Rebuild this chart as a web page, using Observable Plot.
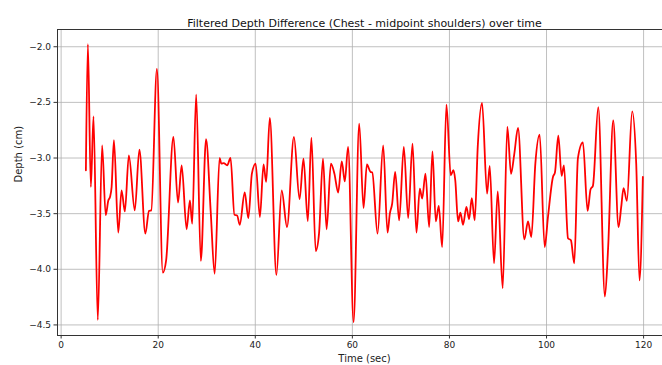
<!DOCTYPE html>
<html>
<head>
<meta charset="utf-8">
<script src="https://cdn.jsdelivr.net/npm/d3@7"></script>
<script src="https://cdn.jsdelivr.net/npm/@observablehq/plot@0.6"></script>
<style>
  html, body { margin: 0; padding: 0; background: #fff; overflow: hidden; }
  #chart svg { display: block; }
</style>
</head>
<body>
<div id="chart"></div>
<script>
// Filtered chest-minus-shoulders depth signal, sampled at its turning points (sec, cm)
const times = [
  5.1, 5.51, 6.12, 6.67, 7.55, 8.44, 9.18, 9.73, 10.07, 10.4, 10.88, 11.77, 12.45, 13.13,
  13.95, 15.17, 16.12, 17.35, 18.1, 18.57, 19.73, 20.95, 21.63, 23.13, 24.08, 24.83, 25.85,
  26.53, 27.0, 27.82, 28.78, 29.86, 30.8, 31.63, 32.65, 33.0, 33.5, 34.2, 34.9, 35.7, 36.26,
  36.8, 37.82, 38.57, 39.3, 40.07, 40.95, 41.7, 42.24, 42.99, 44.35, 45.44, 46.53, 47.96,
  49.12, 49.93, 50.82, 51.56, 52.45, 53.13, 53.95, 54.69, 55.58, 56.3, 57.07, 57.82, 58.44,
  59.12, 60.25, 61.41, 62.3, 62.99, 63.74, 64.1, 65.19, 66.35, 67.24, 67.72, 68.2, 68.82,
  69.64, 70.6, 71.5, 72.39, 73.2, 73.9, 74.38, 75.06, 75.82, 76.5, 77.19, 77.8, 78.5, 79.38,
  80.27, 80.82, 81.2, 81.78, 82.26, 82.8, 83.5, 84.05, 84.6, 85.21, 85.83, 86.72, 87.75,
  88.3, 89.19, 89.95, 90.97, 91.93, 92.69, 93.37, 94.13, 95.43, 96.19, 96.87, 97.7, 98.59,
  99.62, 100.3, 101.33, 101.74, 102.43, 103.11, 103.59, 104.42, 105.03, 105.72, 106.47,
  107.5, 108.46, 109.08, 109.56, 110.66, 112.03, 112.7, 113.74, 114.84, 115.39, 115.87,
  116.56, 117.65, 118.48, 119.16, 119.85
];
const depths = [
  -3.11, -1.976, -3.26, -2.627, -4.454, -2.887, -3.513, -3.38, -3.35, -3.26, -2.84, -3.67, -3.29, -3.48,
  -2.976, -3.47, -2.925, -3.68, -3.475, -3.47, -2.2, -4.03, -3.92, -2.81, -3.40, -3.066, -3.64,
  -3.38, -3.59, -2.43, -3.925, -2.83, -3.47, -4.04, -3.0, -3.05, -3.045, -3.066, -3.0, -3.51, -3.516,
  -3.60, -3.31, -3.54, -3.14, -3.05, -3.53, -3.057, -3.215, -2.64, -4.05, -3.29, -3.62, -2.81,
  -3.37, -3.006, -3.567, -2.818, -3.836, -3.68, -3.006, -3.64, -3.05, -3.14, -3.31, -3.03, -3.21,
  -2.90, -4.475, -2.69, -3.45, -3.057, -3.125, -3.13, -3.68, -2.887, -3.67, -3.50, -3.41, -3.125,
  -3.56, -2.90, -3.54, -2.87, -3.67, -3.275, -3.364, -3.14, -3.62, -2.94, -3.57, -3.43, -3.80, -2.52,
  -3.155, -3.11, -3.2, -3.57, -3.49, -3.60, -3.44, -3.55, -3.36, -3.56, -2.90, -2.505, -3.32,
  -3.07, -3.946, -3.30, -4.17, -2.72, -3.143, -2.96, -2.73, -3.73, -3.57, -3.71, -3.05, -2.79,
  -3.80, -3.53, -3.17, -3.13, -2.80, -3.16, -3.066, -3.72, -3.74, -3.946, -3.0,
  -2.86, -3.475, -3.28, -3.25, -2.543, -4.245, -3.80, -2.663, -3.62, -3.44, -3.27,
  -3.385, -2.58, -3.05, -4.10, -3.17
];
const xTicks = [0, 20, 40, 60, 80, 100, 120];
const yTicks = [-2.0, -2.5, -3.0, -3.5, -4.0, -4.5];

const titleText = "Filtered Depth Difference (Chest - midpoint shoulders) over time";
const xLabel = "Time (sec)";
const yLabel = "Depth (cm)";

const series = times.map((t, i) => ({t, depth: depths[i]}));
const font = "DejaVu Sans, sans-serif";

const chart = Plot.plot({
  width: 662,
  height: 365,
  marginLeft: 57,
  marginRight: -9,
  marginTop: 29,
  marginBottom: 30,
  style: {fontFamily: font, fontSize: "9px", color: "#222", background: "#fff"},
  x: {domain: [-0.75, 125.75], ticks: xTicks, label: null},
  y: {domain: [-4.595, -1.845], ticks: yTicks, label: null, tickFormat: d3.format(".1f")},
  marks: [
    Plot.gridX(xTicks, {stroke: "#b0b0b0", strokeOpacity: 1, strokeWidth: 0.8}),
    Plot.gridY(yTicks, {stroke: "#b0b0b0", strokeOpacity: 1, strokeWidth: 0.8}),
    Plot.line(series, {x: "t", y: "depth", stroke: "#ff0000", strokeWidth: 1.8, curve: "monotone-x"}),
    Plot.frame({stroke: "#333", strokeWidth: 1}),
    Plot.axisX(xTicks, {tickSize: 3.5, tickPadding: 3, stroke: "#333", fill: "#222", label: null}),
    Plot.axisY(yTicks, {tickSize: 3.5, tickPadding: 3, stroke: "#333", fill: "#222", label: null, tickFormat: d3.format(".1f")}),
    Plot.text([titleText], {frameAnchor: "top", dy: -10, fontSize: 11, fill: "#111", fontFamily: font}),
    Plot.text([xLabel], {frameAnchor: "bottom", dy: 26, fontSize: 10, fill: "#222", fontFamily: font}),
    Plot.text([yLabel], {frameAnchor: "left", dx: -39, rotate: -90, fontSize: 10, fill: "#222", fontFamily: font})
  ]
});
document.getElementById("chart").append(chart);
</script>
</body>
</html>
